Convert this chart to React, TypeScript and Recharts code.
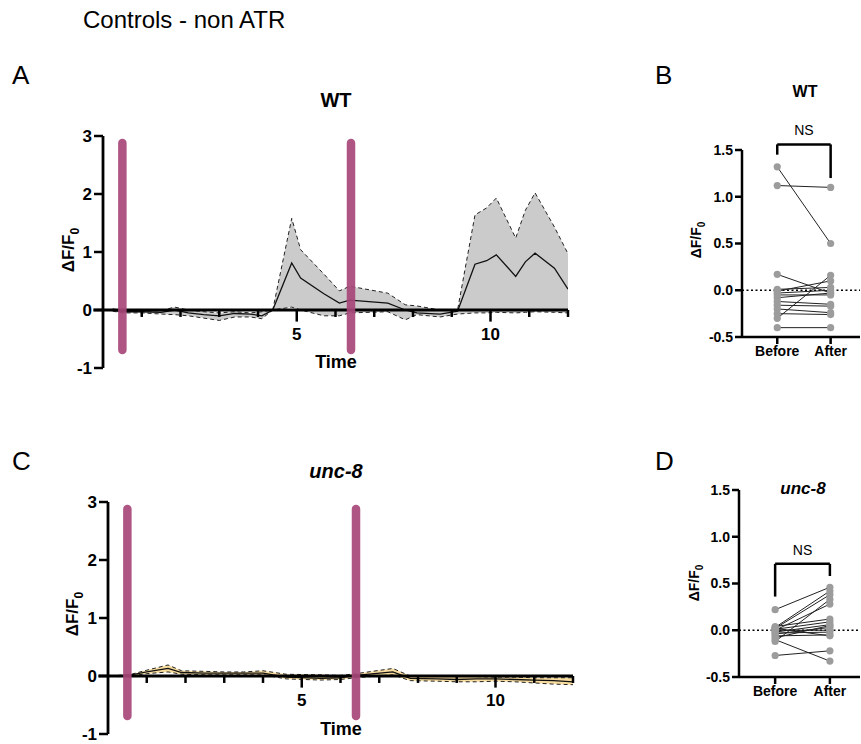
import React from 'react'
import {
  ComposedChart,
  Area,
  Line,
  Scatter,
  XAxis,
  YAxis,
  ReferenceLine,
} from 'recharts'

// time traces (seconds)
const wtTime = [0.25, 0.5, 1.0, 1.5, 1.85, 2.2, 2.6, 3.0, 3.4, 3.8, 4.1, 4.38, 4.87, 5.1, 5.7, 6.1, 6.37, 7.35, 7.8, 8.1, 8.7, 9.15, 9.6, 9.9, 10.15, 10.65, 10.9, 11.15, 11.65, 12.0]
const wtUpper = [0.02, -0.01, -0.02, -0.01, 0.05, 0.0, -0.03, -0.05, -0.03, -0.05, -0.03, 0.0, 1.58, 1.04, 0.62, 0.33, 0.41, 0.29, 0.09, 0.07, 0.0, 0.0, 1.64, 1.76, 1.93, 1.24, 1.72, 2.02, 1.43, 0.97]
const wtMean = [0.0, -0.03, -0.03, -0.04, 0.0, -0.05, -0.08, -0.1, -0.06, -0.07, -0.1, 0.0, 0.81, 0.55, 0.28, 0.12, 0.17, 0.12, 0.0, -0.05, -0.07, -0.02, 0.79, 0.85, 0.95, 0.58, 0.83, 0.98, 0.72, 0.36]
const wtLower = [-0.02, -0.05, -0.05, -0.07, -0.08, -0.1, -0.14, -0.18, -0.12, -0.12, -0.15, 0.0, 0.05, 0.0, -0.1, -0.1, -0.05, -0.03, -0.17, -0.08, -0.12, -0.07, -0.05, -0.05, -0.04, -0.05, -0.04, -0.03, -0.04, -0.05]

const uncTime = [0.25, 0.6, 1.0, 1.55, 1.9, 2.5, 3.0, 3.5, 4.0, 4.6, 5.5, 6.0, 6.4, 7.35, 7.8, 8.5, 9.0, 9.5, 10.0, 10.5, 11.0, 11.5, 12.0]
const uncUpper = [0.01, 0.03, 0.1, 0.19, 0.09, 0.08, 0.07, 0.07, 0.09, 0.03, 0.02, 0.01, 0.04, 0.13, 0.0, 0.0, 0.0, -0.01, -0.02, -0.02, -0.03, -0.03, -0.03]
const uncMean = [0.0, 0.02, 0.07, 0.13, 0.06, 0.05, 0.05, 0.05, 0.05, -0.02, -0.04, -0.03, 0.01, 0.07, -0.04, -0.05, -0.06, -0.05, -0.05, -0.06, -0.07, -0.08, -0.1]
const uncLower = [-0.01, 0.0, 0.04, 0.07, 0.03, 0.02, 0.02, 0.02, 0.02, -0.05, -0.07, -0.06, -0.03, 0.02, -0.08, -0.09, -0.1, -0.1, -0.09, -0.1, -0.12, -0.14, -0.15]

const stimTimes = [0.5, 6.4]
const majorTicks = [5, 10]
const minorTicks = [1, 2, 3, 4, 6, 7, 8, 9, 11, 12]
const traceYTicks = [-1, 0, 1, 2, 3]

// paired before/after values
const wtBefore = [1.32, 1.12, 0.17, -0.3, 0.01, -0.01, -0.03, -0.05, -0.08, -0.12, -0.16, -0.2, -0.25, -0.4]
const wtAfter = [0.5, 1.1, -0.03, 0.16, 0.03, 0.1, 0.0, -0.05, -0.03, -0.15, -0.17, -0.24, -0.26, -0.4]
const uncBefore = [0.22, 0.03, 0.02, -0.12, 0.0, 0.04, 0.01, -0.02, -0.04, 0.0, -0.03, -0.06, 0.02, -0.08, -0.1, -0.27]
const uncAfter = [0.46, 0.42, 0.38, 0.33, 0.28, 0.12, 0.09, 0.06, 0.03, 0.0, -0.02, -0.05, -0.06, 0.05, -0.33, -0.22]
const pairedYTicks = [-0.5, 0, 0.5, 1, 1.5]
const groups = ['Before', 'After']

const FONT = '"Liberation Sans", Arial, Helvetica, sans-serif'
const MAGENTA = '#a8467a'

function TracePanel({ left, top, time, upper, mean, lower, fill }: any) {
  const rows = time.map((t: number, i: number) => ({
    t,
    hi: upper[i],
    mean: mean[i],
    lo: lower[i],
    band: [lower[i], upper[i]],
  }))
  return (
    <div style={{ position: 'absolute', left, top }}>
      <ComposedChart width={560} height={300} data={rows} margin={{ top: 36, right: 32, left: 0, bottom: 32 }}>
        <XAxis type="number" dataKey="t" domain={[0, 12]} allowDataOverflow hide />
        <YAxis
          type="number"
          domain={[-1, 3]}
          ticks={traceYTicks}
          allowDataOverflow
          width={63}
          tickSize={9}
          tick={{ fill: '#000', fontSize: 17, fontWeight: 700, fontFamily: FONT }}
          axisLine={{ stroke: '#000', strokeWidth: 2.8 }}
          tickLine={{ stroke: '#000', strokeWidth: 2.5 }}
        />
        <Area dataKey="band" type="linear" fill={fill} fillOpacity={1} stroke="none" isAnimationActive={false} />
        <Line dataKey="hi" type="linear" stroke="#222" strokeWidth={1} strokeDasharray="4 3" dot={false} isAnimationActive={false} />
        <Line dataKey="lo" type="linear" stroke="#222" strokeWidth={1} strokeDasharray="4 3" dot={false} isAnimationActive={false} />
        <Line dataKey="mean" type="linear" stroke="#111" strokeWidth={1.3} dot={false} isAnimationActive={false} />
        {/* x axis drawn through zero */}
        <ReferenceLine segment={[{ x: -0.25, y: 0 }, { x: 12, y: 0 }]} stroke="#000" strokeWidth={2.8} ifOverflow="visible" />
        {minorTicks.map((m) => (
          <ReferenceLine key={'m' + m} segment={[{ x: m, y: 0 }, { x: m, y: -0.12 }]} stroke="#000" strokeWidth={2.5} ifOverflow="visible" />
        ))}
        {majorTicks.map((m) => (
          <ReferenceLine
            key={'M' + m}
            segment={[{ x: m, y: 0 }, { x: m, y: -0.2 }]}
            stroke="#000"
            strokeWidth={2.5}
            ifOverflow="visible"
            label={{ value: String(m), position: 'bottom', offset: 6, fill: '#000', fontSize: 17, fontWeight: 700, fontFamily: FONT }}
          />
        ))}
        {stimTimes.map((s) => (
          <ReferenceLine key={'s' + s} segment={[{ x: s, y: -0.69 }, { x: s, y: 2.88 }]} stroke={MAGENTA} strokeOpacity={0.92} strokeWidth={8.5} strokeLinecap="round" ifOverflow="visible" />
        ))}
      </ComposedChart>
    </div>
  )
}

function PairedPanel({ left, top, before, after, nsTop, nsLeft, nsRight, yAxisWidth }: any) {
  const beforePts = before.map((v: number) => ({ x: 1, y: v }))
  const afterPts = after.map((v: number) => ({ x: 2, y: v }))
  const dotShape = (p: any) => <circle cx={p.cx} cy={p.cy} r={3.6} fill="#9c9c9c" />
  return (
    <div style={{ position: 'absolute', left, top }}>
      <ComposedChart width={181} height={260} margin={{ top: 40, right: 1, left: 0, bottom: 3 }}>
        <XAxis
          type="number"
          dataKey="x"
          domain={[0.34, 2.55]}
          allowDataOverflow
          ticks={[1, 2]}
          tickFormatter={(v: number) => groups[v - 1]}
          height={30}
          tickSize={7}
          tick={{ fill: '#000', fontSize: 14, fontWeight: 700, fontFamily: FONT }}
          axisLine={{ stroke: '#000', strokeWidth: 2.5 }}
          tickLine={{ stroke: '#000', strokeWidth: 2.5 }}
        />
        <YAxis
          type="number"
          dataKey="y"
          domain={[-0.5, 1.5]}
          allowDataOverflow
          ticks={pairedYTicks}
          tickFormatter={(v: number) => v.toFixed(1)}
          width={yAxisWidth}
          tickSize={7}
          tick={{ fill: '#000', fontSize: 14, fontWeight: 700, fontFamily: FONT }}
          axisLine={{ stroke: '#000', strokeWidth: 2.5 }}
          tickLine={{ stroke: '#000', strokeWidth: 2.5 }}
        />
        <ReferenceLine y={0} stroke="#000" strokeWidth={1.6} strokeDasharray="2 2.5" />
        {before.map((b: number, i: number) => (
          <Line
            key={i}
            data={[{ x: 1, y: b }, { x: 2, y: after[i] }]}
            dataKey="y"
            type="linear"
            stroke="#222"
            strokeWidth={1}
            dot={false}
            isAnimationActive={false}
          />
        ))}
        <Scatter data={beforePts} dataKey="y" shape={dotShape} isAnimationActive={false} />
        <Scatter data={afterPts} dataKey="y" shape={dotShape} isAnimationActive={false} />
        <ReferenceLine segment={[{ x: 1, y: nsLeft }, { x: 1, y: nsTop }]} stroke="#000" strokeWidth={2.5} ifOverflow="visible" />
        <ReferenceLine segment={[{ x: 2, y: nsRight }, { x: 2, y: nsTop }]} stroke="#000" strokeWidth={2.5} ifOverflow="visible" />
        <ReferenceLine
          segment={[{ x: 1, y: nsTop }, { x: 2, y: nsTop }]}
          stroke="#000"
          strokeWidth={2.5}
          ifOverflow="visible"
          label={{ value: 'NS', position: 'top', offset: 9, fill: '#000', fontSize: 14, fontFamily: FONT }}
        />
      </ComposedChart>
    </div>
  )
}

function YLabel({ x, y, size }: any) {
  return (
    <text x={x} y={y} transform={`rotate(-90 ${x} ${y})`} textAnchor="middle" fontSize={size} fontWeight={700} fill="#000">
      ΔF/F<tspan fontSize={size * 0.72} dy={size * 0.3}>0</tspan>
    </text>
  )
}

export default function App() {
  return (
    <div style={{ position: 'absolute', left: 0, top: 0, width: 861, height: 744, background: '#fff', fontFamily: FONT, overflow: 'hidden' }}>
      <TracePanel left={40} top={100} time={wtTime} upper={wtUpper} mean={wtMean} lower={wtLower} fill="#cbcbcb" />
      <TracePanel left={45} top={466} time={uncTime} upper={uncUpper} mean={uncMean} lower={uncLower} fill="#f8dd9f" />
      <PairedPanel left={680} top={110} before={wtBefore} after={wtAfter} nsTop={1.56} nsLeft={1.45} nsRight={1.2} yAxisWidth={62} />
      <PairedPanel left={680} top={450} before={uncBefore} after={uncAfter} nsTop={0.71} nsLeft={0.36} nsRight={0.58} yAxisWidth={59} />

      <svg width={861} height={744} style={{ position: 'absolute', left: 0, top: 0, pointerEvents: 'none' }} fontFamily={FONT}>
        <text x={83} y={28} fontSize={24} fill="#000">Controls - non ATR</text>
        <text x={12} y={84} fontSize={26} fill="#000">A</text>
        <text x={655} y={84} fontSize={26} fill="#000">B</text>
        <text x={12} y={470} fontSize={26} fill="#000">C</text>
        <text x={655} y={470} fontSize={26} fill="#000">D</text>

        <text x={336} y={107} textAnchor="middle" fontSize={20} fontWeight={700} fill="#000">WT</text>
        <text x={805} y={97} textAnchor="middle" fontSize={16} fontWeight={700} fill="#000">WT</text>
        <text x={336} y={478} textAnchor="middle" fontSize={20} fontWeight={700} fontStyle="italic" fill="#000">unc-8</text>
        <text x={803} y={494} textAnchor="middle" fontSize={17} fontWeight={700} fontStyle="italic" fill="#000">unc-8</text>

        <text x={336} y={368} textAnchor="middle" fontSize={18} fontWeight={700} fill="#000">Time</text>
        <text x={341} y={735} textAnchor="middle" fontSize={18} fontWeight={700} fill="#000">Time</text>

        <YLabel x={74} y={250} size={17} />
        <YLabel x={78} y={614} size={17} />
        <YLabel x={701} y={240} size={14} />
        <YLabel x={699} y={583} size={14} />
      </svg>
    </div>
  )
}
